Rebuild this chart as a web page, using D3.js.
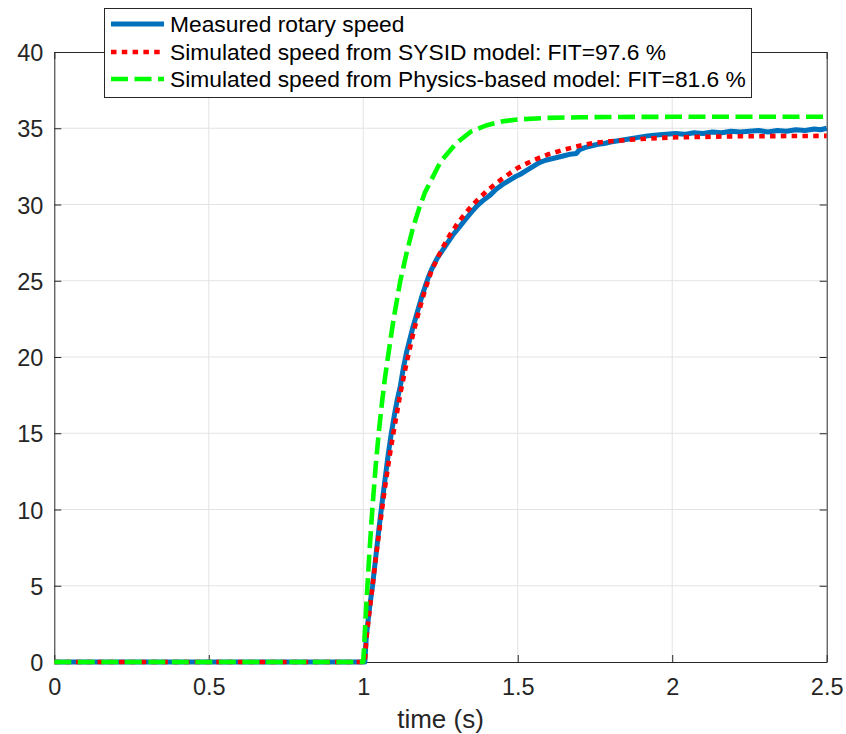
<!DOCTYPE html>
<html>
<head>
<meta charset="utf-8">
<script src="https://cdn.jsdelivr.net/npm/d3@7"></script>
<style>
  body { margin: 0; background: #fff; }
  svg { display: block; }
  text { font-family: "Liberation Sans", Arial, Helvetica, sans-serif; fill: #262626; }
</style>
</head>
<body>
<script>
// step response: measured vs two models

var xTicks = [0, 0.5, 1, 1.5, 2, 2.5];
var yTicks = [0, 5, 10, 15, 20, 25, 30, 35, 40];

var seriesNames = [
  "Measured rotary speed",
  "Simulated speed from SYSID model: FIT=97.6 %",
  "Simulated speed from Physics-based model: FIT=81.6 %"
];

// measured rotary speed (noisy)
var measT = [0, 1.005, 1.01, 1.02, 1.03, 1.04, 1.05, 1.06, 1.07, 1.08, 1.09, 1.10, 1.11, 1.12, 1.13, 1.14,
  1.15, 1.16, 1.17, 1.18, 1.19, 1.20, 1.21, 1.22, 1.23, 1.24, 1.25, 1.27, 1.29, 1.31, 1.33, 1.35,
  1.37, 1.39, 1.41, 1.43, 1.45, 1.47, 1.49, 1.51, 1.53, 1.55, 1.57, 1.59, 1.61, 1.63, 1.65, 1.67,
  1.69, 1.70, 1.72, 1.74, 1.76, 1.78, 1.80, 1.83, 1.86, 1.89, 1.92, 1.95, 1.98, 2.01, 2.04, 2.07,
  2.10, 2.13, 2.16, 2.19, 2.22, 2.25, 2.28, 2.31, 2.34, 2.37, 2.40, 2.43, 2.46, 2.48, 2.50];
var measV = [0, 0, 1.7, 3.5, 5.0, 6.8, 8.6, 10.3, 11.9, 13.5, 14.9, 16.1, 17.2, 18.1, 19.3, 20.3,
  21.1, 21.9, 22.6, 23.3, 24.0, 24.6, 25.2, 25.7, 26.1, 26.5, 26.8, 27.4, 28.0, 28.5, 29.0, 29.5,
  29.95, 30.3, 30.6, 31.0, 31.3, 31.55, 31.8, 32.0, 32.25, 32.5, 32.75, 32.9, 33.0, 33.1, 33.2, 33.3,
  33.35, 33.6, 33.75, 33.85, 33.95, 34.0, 34.1, 34.2, 34.3, 34.4, 34.5, 34.55, 34.6, 34.65, 34.6, 34.7,
  34.65, 34.75, 34.7, 34.8, 34.75, 34.8, 34.85, 34.75, 34.85, 34.8, 34.9, 34.85, 34.95, 34.9, 35.0];

// SYSID model
var sysT = [0, 1.005, 1.01, 1.02, 1.03, 1.04, 1.05, 1.06, 1.07, 1.08, 1.09, 1.10, 1.12, 1.14, 1.16,
  1.18, 1.20, 1.22, 1.25, 1.28, 1.31, 1.35, 1.40, 1.45, 1.50, 1.55, 1.60, 1.65, 1.70, 1.75, 1.80,
  1.90, 2.00, 2.20, 2.50];
var sysV = [0, 0, 1.5, 3.3, 5.0, 6.7, 8.3, 9.9, 11.4, 12.8, 14.1, 15.3, 17.6, 19.6, 21.4,
  23.0, 24.4, 25.6, 26.9, 28.0, 28.9, 29.9, 30.9, 31.7, 32.4, 32.9, 33.3, 33.6, 33.85, 34.05, 34.15,
  34.3, 34.4, 34.47, 34.5];

// physics-based model
var physT = [0, 1.0, 1.01, 1.02, 1.03, 1.04, 1.05, 1.06, 1.07, 1.08, 1.09, 1.10, 1.12, 1.14, 1.16,
  1.18, 1.20, 1.25, 1.30, 1.35, 1.40, 1.45, 1.50, 1.60, 1.70, 1.80, 2.00, 2.50];
var physV = [0, 0, 3.8, 7.2, 10.2, 12.8, 15.0, 16.9, 18.6, 20.0, 21.4, 22.7, 25.0, 26.8, 28.4,
  29.7, 30.8, 32.8, 34.0, 34.8, 35.2, 35.45, 35.58, 35.68, 35.72, 35.74, 35.75, 35.75];

var colors = ["#0072bd", "#ff0000", "#00ff00"];
var dashes = [null, "5.5,5.3", "17,6.5"];
var widths = [5, 4.6, 4.6];

var W = 846, H = 734;
var margin = {top: 52, right: 19.3, bottom: 72, left: 54.3};
var width = W - margin.left - margin.right;
var height = H - margin.top - margin.bottom;

var x = d3.scaleLinear().domain([0, 2.5]).range([0, width]);
var y = d3.scaleLinear().domain([0, 40]).range([height, 0]);

var svg = d3.select("body").append("svg")
  .attr("width", W)
  .attr("height", H);

var g = svg.append("g")
  .attr("transform", "translate(" + margin.left + "," + margin.top + ")");

// grid
g.append("g").selectAll("line")
  .data(xTicks.slice(1, -1))
  .enter().append("line")
    .attr("x1", function(d) { return x(d); })
    .attr("x2", function(d) { return x(d); })
    .attr("y1", 0).attr("y2", height)
    .attr("stroke", "#e3e3e3").attr("stroke-width", 1);

g.append("g").selectAll("line")
  .data(yTicks.slice(1, -1))
  .enter().append("line")
    .attr("y1", function(d) { return y(d); })
    .attr("y2", function(d) { return y(d); })
    .attr("x1", 0).attr("x2", width)
    .attr("stroke", "#e3e3e3").attr("stroke-width", 1);

// axes, MATLAB style ticks pointing inward
var xAxis = d3.axisBottom(x).tickValues(xTicks).tickFormat(d3.format("")).tickSizeInner(-7).tickSizeOuter(0).tickPadding(16);
var yAxis = d3.axisLeft(y).tickValues(yTicks).tickFormat(d3.format("")).tickSizeInner(-7).tickSizeOuter(0).tickPadding(11);

function styleAxis(sel) {
  sel.selectAll("path").attr("stroke", "#262626");
  sel.selectAll("line").attr("stroke", "#262626");
  sel.selectAll("text").style("font-size", "23.5px").attr("fill", "#262626");
}

g.append("g").attr("transform", "translate(0," + height + ")").call(xAxis).call(styleAxis)
  .selectAll("text").attr("dy", "0.71em");
g.append("g").call(yAxis).call(styleAxis)
  .selectAll("text").attr("dy", "0.37em");

// top and right box with mirrored ticks
g.append("g").call(d3.axisTop(x).tickValues(xTicks).tickFormat("").tickSizeInner(-7).tickSizeOuter(0)).call(styleAxis);
g.append("g").attr("transform", "translate(" + width + ",0)")
  .call(d3.axisRight(y).tickValues(yTicks).tickFormat("").tickSizeInner(-7).tickSizeOuter(0)).call(styleAxis);

// lines
var line = d3.line()
  .x(function(d) { return x(d[0]); })
  .y(function(d) { return y(d[1]); });

var series = [d3.zip(measT, measV), d3.zip(sysT, sysV), d3.zip(physT, physV)];

series.forEach(function(s, i) {
  g.append("path")
    .datum(s)
    .attr("fill", "none")
    .attr("stroke", colors[i])
    .attr("stroke-width", widths[i])
    .attr("stroke-linejoin", "round")
    .attr("stroke-dasharray", dashes[i])
    .attr("d", line);
});

// x label
svg.append("text")
  .attr("x", margin.left + width / 2)
  .attr("y", 728)
  .attr("text-anchor", "middle")
  .style("font-size", "26px")
  .text("time (s)");

// legend
var leg = svg.append("g");
leg.append("rect")
  .attr("x", 104.5).attr("y", 8.5)
  .attr("width", 647).attr("height", 89)
  .attr("fill", "#fff")
  .attr("stroke", "#262626").attr("stroke-width", 1);

var rowY = [24, 52, 79];
seriesNames.forEach(function(name, i) {
  leg.append("line")
    .attr("x1", 111).attr("x2", 164)
    .attr("y1", rowY[i]).attr("y2", rowY[i])
    .attr("stroke", colors[i])
    .attr("stroke-width", widths[i])
    .attr("stroke-dasharray", dashes[i]);
  leg.append("text")
    .attr("x", 170)
    .attr("y", rowY[i])
    .attr("dy", "0.36em")
    .style("font-size", "22.8px")
    .style("fill", "#000")
    .text(name);
});
</script>
</body>
</html>
